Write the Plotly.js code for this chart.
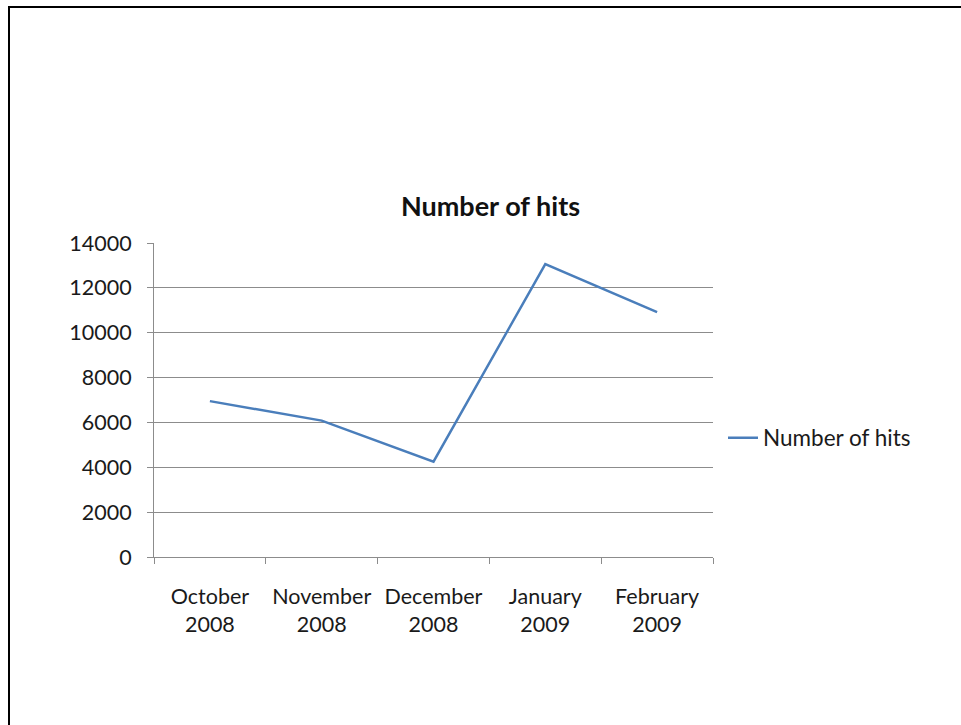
<!DOCTYPE html>
<html>
<head>
<meta charset="utf-8">
<script src="https://cdn.plot.ly/plotly-3.0.1.min.js"></script>
<style>
  html, body { margin: 0; padding: 0; background: #fff; }
  #wrap { position: relative; width: 961px; height: 725px; overflow: hidden; }
  #chart { position: absolute; left: 0; top: 0; width: 961px; height: 725px; }
  #frame { position: absolute; left: 8px; top: 6px; right: -10px; bottom: -10px;
           border-left: 2px solid #000; border-top: 2px solid #000; pointer-events: none; }
</style>
</head>
<body>
<div id="wrap">
  <div id="chart"></div>
  <div id="frame"></div>
</div>
<script>
// Data
const months = ["October", "November", "December", "January", "February"];
const years = ["2008", "2008", "2008", "2009", "2009"];
const hits = [6950, 6080, 4250, 13060, 10920];
const seriesName = "Number of hits";
const chartTitle = "Number of hits";

const categories = months.map((m, i) => m + "<br>" + years[i]);

const FONT = "Lato, 'Open Sans', sans-serif";
const GRID = "#8c8c8c";

const trace = {
  type: "scatter",
  mode: "lines",
  x: categories,
  y: hits,
  name: seriesName,
  line: { color: "#4a7ebb", width: 2.5 },
  hoverinfo: "x+y"
};

const layout = {
  width: 961,
  height: 725,
  margin: { l: 154, r: 248, t: 243, b: 168, pad: 0 },
  paper_bgcolor: "#ffffff",
  plot_bgcolor: "#ffffff",
  font: { family: FONT, color: "#1a1a1a", size: 21.5 },
  title: {
    text: "<b>" + chartTitle + "</b>",
    font: { family: FONT, size: 27, color: "#111" },
    xref: "container", x: 490.5 / 961, xanchor: "center",
    yref: "container", y: 1 - 207 / 725, yanchor: "middle"
  },
  showlegend: true,
  legend: {
    x: (723 - 154) / 559, xanchor: "left",
    y: (557 - 438) / 314, yanchor: "middle",
    font: { family: FONT, size: 22.5, color: "#1a1a1a" },
    bgcolor: "rgba(0,0,0,0)", borderwidth: 0
  },
  xaxis: {
    type: "category",
    range: [-0.5, 4.5],
    showgrid: false,
    zeroline: false,
    showline: true, linecolor: GRID, linewidth: 1,
    ticks: "outside", tickson: "boundaries", ticklen: 6, tickcolor: GRID, tickwidth: 1,
    tickfont: { family: FONT, size: 21.5, color: "#1a1a1a" },
    ticklabelstandoff: 20,
    fixedrange: true
  },
  yaxis: {
    range: [0, 14000],
    tick0: 0, dtick: 2000,
    tickformat: "d",
    showgrid: true, gridcolor: GRID, gridwidth: 1,
    zeroline: false,
    showline: true, linecolor: GRID, linewidth: 1,
    ticks: "outside", ticklen: 6, tickcolor: GRID, tickwidth: 1,
    tickfont: { family: FONT, size: 21.5, color: "#1a1a1a" },
    ticklabelstandoff: 11,
    fixedrange: true
  }
};

Plotly.newPlot("chart", [trace], layout, { displayModeBar: false, staticPlot: true });
</script>
</body>
</html>
